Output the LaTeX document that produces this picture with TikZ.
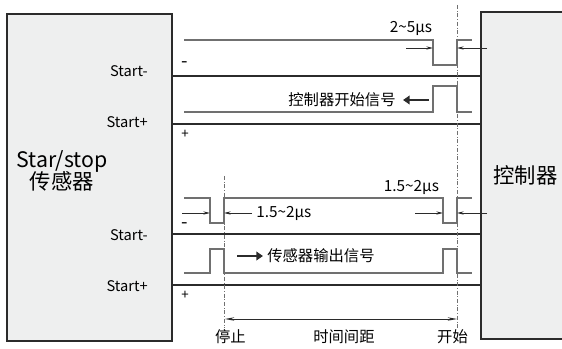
\documentclass[tikz,border=0pt]{standalone}
\usepackage{fontspec}
\setmainfont{Noto Sans CJK SC}
\usetikzlibrary{arrows.meta}
\definecolor{boxgray}{HTML}{EEEFEF}
\definecolor{linedark}{HTML}{2B2B2B}
\definecolor{siggray}{HTML}{707070}
\tikzset{
unit/.style={
	draw=linedark,
	fill=boxgray,
	line width=1.3pt,
	minimum height=245.25pt,
	inner sep=0pt
},
bus/.style={draw=linedark, line width=1.5pt},
signal/.style={draw=siggray, line width=0.9pt},
marker/.style={draw=linedark, line width=0.5pt, -{Stealth[length=5pt,width=2.4pt]}},
guide/.style={draw=siggray, line width=0.7pt, dash pattern=on 3pt off 1.4pt on 0.5pt off 1.4pt},
flow/.style={draw=linedark, line width=2.2pt, -{Triangle[length=5pt,width=6.5pt]}},
pin/.style={font=\fontsize{11}{12}\selectfont, anchor=east, inner sep=0pt},
sign/.style={font=\fontsize{10}{12}\selectfont, inner sep=0pt},
minus/.style={font=\fontsize{14}{14}\selectfont, inner sep=0pt},
tag/.style={font=\fontsize{11.5}{13}\selectfont, inner sep=0pt}
}
\begin{document}
\begin{tikzpicture}[x=0.75pt,y=-0.75pt]
		\useasboundingbox (0,0) rectangle (562,349);
		\clip (0,0) rectangle (562,349);
		% the two units
		\node[unit, minimum width=123.75pt] (sensor) at (89.5,177.5) {};
		\node[unit, minimum width=66.75pt, font=\fontsize{16}{18}\selectfont] (ctrl) at (525.5,175.5) {控制器};
		\node[font=\fontsize{16}{19}\selectfont, align=center, inner sep=0pt] (sname) at (62,171) {Star/stop\\[-2pt]传感器};
		% lines between them
		\foreach \y in {76,124,234,285}
			\draw[bus] (sensor.east |- 0,\y) -- (ctrl.west |- 0,\y);
		\node[pin] (sa1) at (148,71) {Start-};
		\node[pin] (sb1) at (148,122) {Start+};
		\node[pin] (sa2) at (148,235) {Start-};
		\node[pin] (sb2) at (148,286) {Start+};
		\node[minus] (m1) at (185,65) {-};
		\node[sign] (p1) at (185,134) {+};
		\node[minus] (m2) at (185,226) {-};
		\node[sign] (p2) at (185,295) {+};
		% guide lines
		\draw[guide] (457,5) -- (457,328);
		\draw[guide] (224,176) -- (224,328);
		% start pulse from the controller
		\draw[signal] (184,40) -- (433,40) -- (433,65) -- (457,65) -- (457,40) -- (472,40);
		\draw[signal] (184,112) -- (433,112) -- (433,86) -- (457,86) -- (457,112) -- (472,112);
		\draw[marker] (406,48) -- (433,48);
		\draw[marker] (487,48) -- (457,48);
		\node[tag] (w1) at (411,28) {2\textasciitilde5μs};
		\draw[flow] (429,100) -- (403,100);
		\node[tag] (cs) at (342,100) {控制器开始信号};
		% stop and start pulses from the sensor
		\draw[signal] (184,198) -- (210,198) -- (210,223) -- (224,223) -- (224,198) -- (443,198) -- (443,223) -- (457,223) -- (457,198) -- (472,198);
		\draw[signal] (184,273) -- (210,273) -- (210,249) -- (224,249) -- (224,273) -- (443,273) -- (443,249) -- (457,249) -- (457,273) -- (472,273);
		\draw[marker] (182,213) -- (210,213);
		\draw[marker] (252,213) -- (224,213);
		\draw[marker] (415,213) -- (443,213);
		\draw[marker] (487,213) -- (457,213);
		\node[tag, anchor=west] (w2) at (256,213) {1.5\textasciitilde2μs};
		\node[tag] (w3) at (411.5,187) {1.5\textasciitilde2μs};
		\draw[flow] (237,256) -- (263,256);
		\node[tag, anchor=west] (so) at (267,256) {传感器输出信号};
		% interval
		\draw[draw=linedark, line width=0.6pt, {Stealth[length=7pt,width=2.6pt]}-{Stealth[length=7pt,width=2.6pt]}] (225,319) -- (457,319);
		\node[tag] (stop) at (230.5,337) {停止};
		\node[tag] (gap) at (344,337) {时间间距};
		\node[tag] (start) at (452.5,337) {开始};
\end{tikzpicture}
\end{document}
